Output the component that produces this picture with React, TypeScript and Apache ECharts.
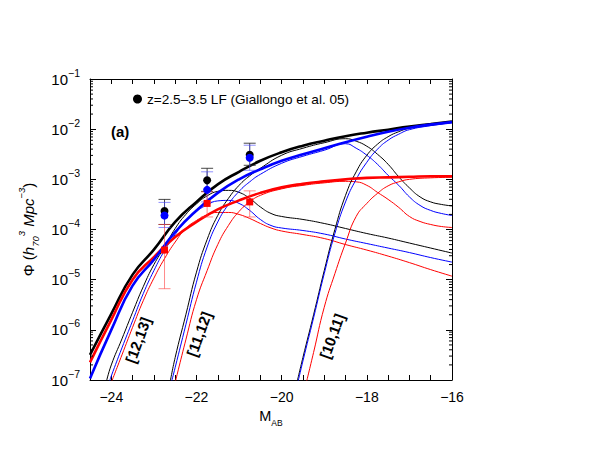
import React, { useEffect, useRef } from 'react';
import * as echarts from 'echarts';

const FONT = "'Liberation Sans', Arial, Helvetica, sans-serif";
const LEGEND_NAME = 'z=2.5–3.5 LF (Giallongo et al. 05)';

// x axis: M_AB, labels every 2 mag
const xMin = -24.5;
const xMax = -16;
const xLabelValues = [-24, -22, -20, -18, -16];
// y axis: decades
const yMin = 1e-7;
const yMax = 1e-1;

// ---- thick curves (total LF), log10 Phi ----
const mTotal = [-24.5, -24, -23.5, -23, -22.5, -22, -21.5, -21, -20.5, -20, -19.5, -19, -18.5, -18, -17.5, -17, -16.5, -16];
const logTotalBlack = [-6.5, -5.68, -4.9, -4.4, -3.85, -3.45, -3.1, -2.85, -2.63, -2.46, -2.33, -2.23, -2.14, -2.07, -2.01, -1.95, -1.9, -1.85];
const logTotalBlue = [-6.97, -6.0, -5.12, -4.6, -4.05, -3.62, -3.27, -3.0, -2.8, -2.63, -2.5, -2.38, -2.26, -2.15, -2.05, -1.97, -1.91, -1.86];
const logTotalRed = [-6.65, -5.8, -5.0, -4.55, -4.15, -3.85, -3.6, -3.42, -3.27, -3.16, -3.09, -3.04, -3.0, -2.97, -2.96, -2.95, -2.94, -2.94];

// ---- [12,13] components ----
const m1213Black = [-24.12, -24, -23.75, -23.5, -23.25, -23, -22.75, -22.5, -22.25, -22, -21.75, -21.5, -21.25, -21, -20.75, -20.5, -20.25, -20, -19.5, -19, -18.5, -18, -17.5, -17, -16.5, -16];
const log1213Black = [-7.05, -6.7, -6.18, -5.65, -5.14, -4.7, -4.35, -3.98, -3.7, -3.49, -3.33, -3.24, -3.22, -3.26, -3.38, -3.55, -3.68, -3.74, -3.8, -3.88, -3.98, -4.08, -4.17, -4.27, -4.37, -4.47];
const m1213Blue = [-24.05, -24, -23.75, -23.5, -23.25, -23, -22.75, -22.5, -22.25, -22, -21.75, -21.5, -21.25, -21, -20.75, -20.5, -20.25, -20, -19.5, -19, -18.5, -18, -17.5, -17, -16.5, -16];
const log1213Blue = [-7.05, -6.92, -6.36, -5.82, -5.28, -4.82, -4.42, -4.1, -3.82, -3.64, -3.51, -3.43, -3.42, -3.48, -3.62, -3.8, -3.92, -3.97, -4.02, -4.09, -4.19, -4.28, -4.37, -4.46, -4.56, -4.65];
const m1213Red = [-24, -23.75, -23.5, -23.25, -23, -22.75, -22.5, -22.25, -22, -21.75, -21.5, -21.25, -21, -20.75, -20.5, -20.25, -20, -19.5, -19, -18.5, -18, -17.5, -17, -16.5, -16];
const log1213Red = [-7.05, -6.5, -5.95, -5.42, -4.97, -4.58, -4.25, -3.98, -3.82, -3.71, -3.66, -3.66, -3.7, -3.78, -3.88, -3.97, -4.03, -4.1, -4.18, -4.3, -4.41, -4.53, -4.66, -4.8, -4.93];

// ---- [11,12] components ----
const m1112Black = [-22.62, -22.5, -22.25, -22, -21.75, -21.5, -21.25, -21, -20.75, -20.5, -20, -19.5, -19, -18.5, -18.25, -18, -17.75, -17.5, -17.25, -17, -16.75, -16.5, -16.25, -16];
const log1112Black = [-7.05, -6.55, -5.7, -4.85, -4.2, -3.72, -3.38, -3.12, -2.93, -2.78, -2.52, -2.38, -2.27, -2.19, -2.24, -2.34, -2.5, -2.7, -2.95, -3.17, -3.35, -3.45, -3.5, -3.53];
const m1112Blue = [-22.59, -22.5, -22.25, -22, -21.75, -21.5, -21.25, -21, -20.75, -20.5, -20, -19.5, -19, -18.5, -18.25, -18, -17.75, -17.5, -17.25, -17, -16.75, -16.5, -16.25, -16];
const log1112Blue = [-7.05, -6.75, -5.9, -5.05, -4.35, -3.85, -3.5, -3.24, -3.05, -2.9, -2.68, -2.54, -2.42, -2.29, -2.38, -2.52, -2.7, -2.92, -3.12, -3.35, -3.52, -3.62, -3.68, -3.72];
const m1112Red = [-22.5, -22.25, -22, -21.75, -21.5, -21.25, -21, -20.75, -20.5, -20, -19.5, -19, -18.5, -18.25, -18, -17.75, -17.5, -17.25, -17, -16.75, -16.5, -16.25, -16];
const log1112Red = [-7.05, -6.2, -5.4, -4.82, -4.3, -3.92, -3.64, -3.45, -3.32, -3.19, -3.12, -3.07, -3.04, -3.05, -3.12, -3.26, -3.4, -3.56, -3.74, -3.84, -3.9, -3.94, -3.96];

// ---- [10,11] components ----
const m1011Black = [-19.64, -19.5, -19.25, -19, -18.75, -18.5, -18.25, -18, -17.75, -17.5, -17.25, -17, -16.5, -16];
const log1011Black = [-7.05, -6.55, -5.7, -4.82, -4.0, -3.32, -2.85, -2.52, -2.3, -2.15, -2.05, -1.98, -1.91, -1.86];
const m1011Blue = [-19.62, -19.5, -19.25, -19, -18.75, -18.5, -18.25, -18, -17.75, -17.5, -17.25, -17, -16.5, -16];
const log1011Blue = [-7.05, -6.62, -5.76, -4.88, -4.08, -3.45, -3.0, -2.66, -2.4, -2.22, -2.1, -2.01, -1.93, -1.87];
const m1011Red = [-19.42, -19.25, -19, -18.75, -18.5, -18.25, -18, -17.75, -17.5, -17.25, -17, -16.5, -16];
const log1011Red = [-7.05, -6.45, -5.55, -4.88, -4.27, -3.74, -3.48, -3.28, -3.13, -3.05, -3.0, -2.97, -2.96];

// ---- observed points (Giallongo et al. 05), log10 Phi ----
const obsM = [-22.75, -21.75, -20.75];
const obsBlack = [-3.63, -3.02, -2.51];
const obsBlackLo = [-3.9, -3.24, -2.72];
const obsBlackHi = [-3.4, -2.78, -2.28];
const obsBlue = [-3.72, -3.21, -2.57];
const obsBlueLo = [-3.96, -3.45, -2.82];
const obsBlueHi = [-3.46, -2.85, -2.32];
const obsRed = [-4.41, -3.48, -3.45];
const obsRedLo = [-5.18, -3.75, -3.75];
const obsRedHi = [-3.9, -3.25, -3.23];

// ---- rotated mass-bin labels ----
const binLabels = ['[12,13]', '[11,12]', '[10,11]'];

const BLACK = '#000000';
const BLUE = '#0000ff';
const RED = '#ff0000';

const pow = (v: number) => Math.pow(10, v);
const pairs = (ms: number[], logs: number[]) => ms.map((m, i) => [m, pow(logs[i])]);

function lineSeries(ms: number[], logs: number[], color: string, width: number, z: number) {
  return {
    type: 'line',
    data: pairs(ms, logs),
    showSymbol: false,
    symbol: 'none',
    smooth: 0.5,
    silent: true,
    clip: true,
    z,
    lineStyle: { color, width },
  };
}

function errorSeries(lo: number[], hi: number[], color: string) {
  return {
    type: 'custom',
    silent: true,
    z: 5,
    data: obsM.map((m, i) => [m, pow(lo[i]), pow(hi[i])]),
    renderItem: (_params: any, api: any) => {
      const x = api.value(0);
      const pLo = api.coord([x, api.value(1)]);
      const pHi = api.coord([x, api.value(2)]);
      const w = 6;
      const st = { stroke: color, lineWidth: 1 };
      return {
        type: 'group',
        children: [
          { type: 'line', shape: { x1: pLo[0], y1: pLo[1], x2: pHi[0], y2: pHi[1] }, style: st },
          { type: 'line', shape: { x1: pLo[0] - w, y1: pLo[1], x2: pLo[0] + w, y2: pLo[1] }, style: st },
          { type: 'line', shape: { x1: pHi[0] - w, y1: pHi[1], x2: pHi[0] + w, y2: pHi[1] }, style: st },
        ],
      };
    },
  };
}

const minorTickValues: number[] = [];
for (let e = -7; e <= -2; e++) {
  for (let k = 2; k <= 9; k++) minorTickValues.push(k * Math.pow(10, e));
}

export default function App() {
  const ref = useRef<HTMLDivElement>(null);
  useEffect(() => {
    document.body.style.margin = '0';
    if (!ref.current) return;
    const chart = echarts.init(ref.current, undefined, { renderer: 'svg' });

    const xAxisCommon = {
      type: 'value',
      min: xMin,
      max: xMax,
      interval: 0.5,
      axisLine: { show: true, onZero: false, lineStyle: { color: '#000', width: 1 } },
      axisTick: { show: true, inside: true, length: 5, lineStyle: { color: '#000' } },
      splitLine: { show: false },
    };
    const yAxisCommon = {
      type: 'log',
      logBase: 10,
      min: yMin,
      max: yMax,
      splitNumber: 6,
      axisLine: { show: true, onZero: false, lineStyle: { color: '#000', width: 1 } },
      axisTick: { show: true, inside: true, length: 6, lineStyle: { color: '#000' } },
      splitLine: { show: false },
      minorTick: { show: false },
    };

    const option: any = {
      animation: false,
      backgroundColor: '#ffffff',
      textStyle: { fontFamily: FONT },
      grid: { left: 90, right: 140, top: 79, bottom: 78, containLabel: false },
      legend: {
        left: 133,
        top: 92,
        padding: 0,
        itemWidth: 9,
        itemHeight: 9,
        itemGap: 5,
        selectedMode: false,
        data: [{ name: LEGEND_NAME, icon: 'circle', itemStyle: { color: '#000', opacity: 1 } }],
        textStyle: { fontFamily: FONT, fontSize: 13.6, color: '#000' },
      },
      xAxis: [
        {
          ...xAxisCommon,
          position: 'bottom',
          name: '{m|M}{s|AB}',
          nameLocation: 'middle',
          nameGap: 24,
          nameTextStyle: {
            rich: {
              m: { fontFamily: FONT, fontSize: 14.5, color: '#000', lineHeight: 22 },
              s: { fontFamily: FONT, fontSize: 8.5, color: '#000', lineHeight: 9, verticalAlign: 'bottom' },
            },
          },
          axisLabel: {
            show: true,
            margin: 10,
            fontFamily: FONT,
            fontSize: 14,
            color: '#000',
            formatter: (v: number) => {
              const hit = xLabelValues.find((t) => Math.abs(t - v) < 1e-6);
              return hit === undefined ? '' : '\u2212' + Math.abs(hit);
            },
          },
        },
        { ...xAxisCommon, position: 'top', axisLabel: { show: false } },
      ],
      yAxis: [
        {
          ...yAxisCommon,
          position: 'left',
          name: '{n|Φ (}{i|h}{sub|70}{sup|3}{i| Mpc}{sup|\u22123}{n|)}',
          nameLocation: 'middle',
          nameGap: 44,
          nameRotate: 90,
          nameTextStyle: {
            rich: {
              n: { fontFamily: FONT, fontSize: 15, color: '#000', lineHeight: 24 },
              i: { fontFamily: FONT, fontSize: 15, fontStyle: 'italic', color: '#000', lineHeight: 24 },
              sub: { fontFamily: FONT, fontSize: 9.5, fontStyle: 'italic', color: '#000', lineHeight: 11, verticalAlign: 'bottom' },
              sup: { fontFamily: FONT, fontSize: 9.5, fontStyle: 'italic', color: '#000', lineHeight: 11, verticalAlign: 'top' },
            },
          },
          axisLabel: {
            show: true,
            margin: 10,
            formatter: (v: number) => {
              const e = Math.round(Math.log10(v));
              return '{b|10}{s|\u2212' + Math.abs(e) + '}';
            },
            rich: {
              b: { fontFamily: FONT, fontSize: 15, color: '#000', lineHeight: 24 },
              s: { fontFamily: FONT, fontSize: 10.5, color: '#000', lineHeight: 12, verticalAlign: 'top' },
            },
          },
        },
        { ...yAxisCommon, position: 'right', axisLabel: { show: false } },
      ],
      graphic: [
        {
          type: 'text',
          left: 111,
          top: 124,
          style: { text: '(a)', font: `bold 15px ${FONT}`, fill: '#000' },
        },
        ...binLabels.map((t, i) => ({
          type: 'text',
          x: [138, 199, 332][i],
          y: [340, 334, 336][i],
          rotation: (70 * Math.PI) / 180,
          style: {
            text: t,
            font: `bold 15px ${FONT}`,
            fill: '#000',
            align: 'center',
            verticalAlign: 'middle',
          },
        })),
      ],
      series: [
        lineSeries(m1213Black, log1213Black, BLACK, 1, 2),
        lineSeries(m1213Blue, log1213Blue, BLUE, 1, 2),
        lineSeries(m1213Red, log1213Red, RED, 1, 2),
        lineSeries(m1112Black, log1112Black, BLACK, 1, 2),
        lineSeries(m1112Blue, log1112Blue, BLUE, 1, 2),
        lineSeries(m1112Red, log1112Red, RED, 1, 2),
        lineSeries(m1011Black, log1011Black, BLACK, 1, 2),
        lineSeries(m1011Blue, log1011Blue, BLUE, 1, 2),
        lineSeries(m1011Red, log1011Red, RED, 1, 2),
        lineSeries(mTotal, logTotalBlack, BLACK, 2.6, 3),
        lineSeries(mTotal, logTotalRed, RED, 2.6, 3),
        lineSeries(mTotal, logTotalBlue, BLUE, 2.6, 3),
        errorSeries(obsBlackLo, obsBlackHi, 'rgba(40,40,40,0.85)'),
        errorSeries(obsBlueLo, obsBlueHi, 'rgba(70,70,255,0.6)'),
        errorSeries(obsRedLo, obsRedHi, 'rgba(255,60,60,0.6)'),
        {
          type: 'scatter',
          name: LEGEND_NAME,
          data: pairs(obsM, obsBlack),
          symbol: 'circle',
          symbolSize: 8,
          itemStyle: { color: BLACK, opacity: 1 },
          z: 6,
          silent: true,
        },
        {
          type: 'scatter',
          name: 'blue',
          data: pairs(obsM, obsBlue),
          symbol: 'circle',
          symbolSize: 8,
          itemStyle: { color: BLUE, opacity: 1 },
          z: 6,
          silent: true,
        },
        {
          type: 'scatter',
          name: 'red',
          data: pairs(obsM, obsRed),
          symbol: 'rect',
          symbolSize: 7,
          itemStyle: { color: RED, opacity: 1 },
          z: 6,
          silent: true,
        },
        {
          type: 'custom',
          silent: true,
          z: 7,
          data: minorTickValues.map((v) => [xMin, v]),
          renderItem: (_params: any, api: any) => {
            const v = api.value(1);
            const l = api.coord([xMin, v]);
            const r = api.coord([xMax, v]);
            const st = { stroke: '#000', lineWidth: 1 };
            return {
              type: 'group',
              children: [
                { type: 'line', shape: { x1: l[0], y1: l[1], x2: l[0] + 3, y2: l[1] }, style: st },
                { type: 'line', shape: { x1: r[0] - 3, y1: r[1], x2: r[0], y2: r[1] }, style: st },
              ],
            };
          },
        },
      ],
    };

    chart.setOption(option);
    return () => chart.dispose();
  }, []);

  return <div ref={ref} style={{ width: 592, height: 458 }} />;
}
